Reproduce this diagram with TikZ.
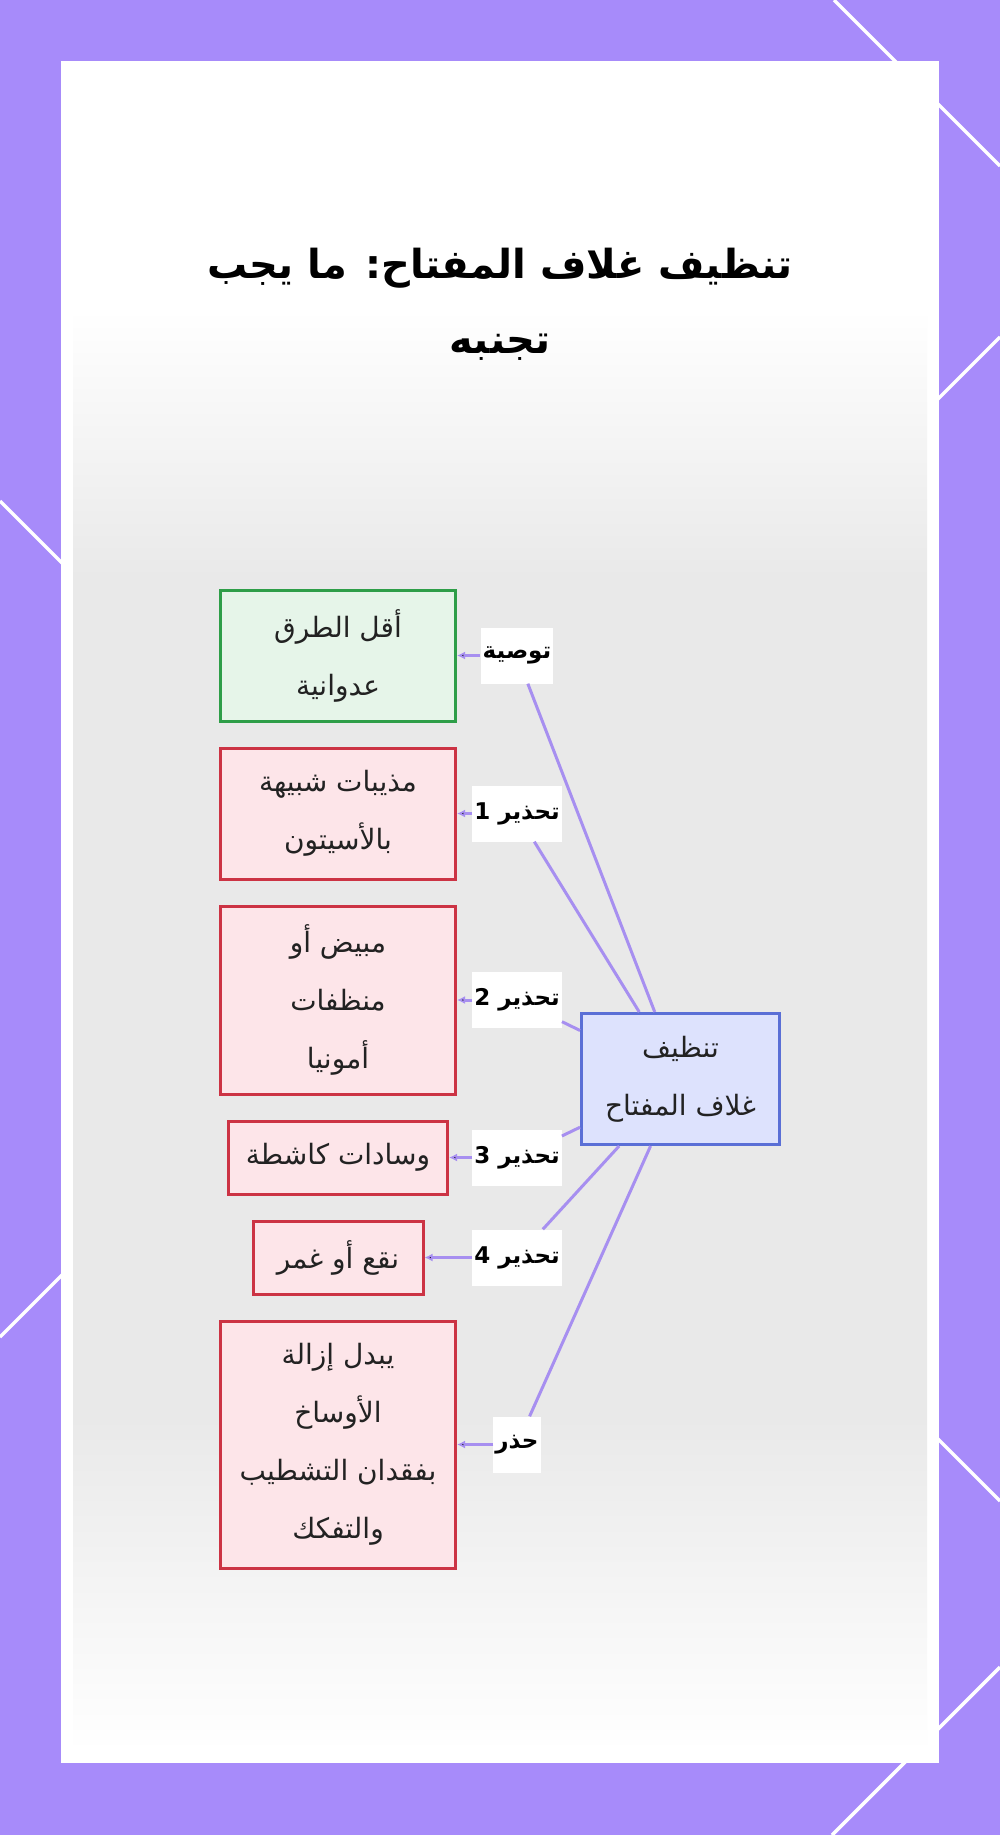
\documentclass[tikz,border=0pt]{standalone}
\usepackage{fontspec}
\usetikzlibrary{arrows.meta, shapes, positioning}
\TeXXeTstate=1
\newfontfamily\arabicfont[Script=Arabic]{DejaVu Sans}
\newcommand{\artxt}[1]{\beginR #1\endR}
\definecolor{bgpurple}{RGB}{167,139,250}
\definecolor{linkcol}{RGB}{167,143,240}
\definecolor{fadegray}{RGB}{233,233,233}
\definecolor{okfill}{RGB}{230,245,233}
\definecolor{okdraw}{RGB}{46,158,72}
\definecolor{badfill}{RGB}{253,229,233}
\definecolor{baddraw}{RGB}{204,51,68}
\definecolor{mainfill}{RGB}{221,226,253}
\definecolor{maindraw}{RGB}{90,111,214}
\definecolor{inkcol}{RGB}{34,34,34}
\pgfdeclareverticalshading{panelfade}{100bp}{color(0bp)=(white); color(25bp)=(white);
  color(35bp)=(fadegray); color(60bp)=(fadegray); color(68bp)=(white); color(100bp)=(white)}

\begin{document}
\begin{tikzpicture}[x=1pt,y=-1pt,node distance=24pt,
 box/.style={rectangle,draw,line width=3pt,align=center,inner sep=0pt,text=inkcol,
   font=\arabicfont\fontsize{28}{58}\selectfont},
 ok node/.style={box,fill=okfill,draw=okdraw},
 bad node/.style={box,fill=badfill,draw=baddraw},
 main node/.style={box,fill=mainfill,draw=maindraw},
 tag node/.style={rectangle,fill=white,inner xsep=2pt,minimum height=56pt,
   font=\arabicfont\bfseries\fontsize{23}{28}\selectfont},
 link/.style={draw=linkcol,line width=3pt},
 bgline/.style={draw=white,line width=3.5pt}]
  \useasboundingbox (0,0) rectangle (1000,1835);
  % backdrop
  \fill[bgpurple] (0,0) rectangle (1000,1835);
  \draw[bgline] (834,0) -- (1000,166);
  \draw[bgline] (1000,337) -- (800,537);
  \draw[bgline] (0,501) -- (150,651);
  \draw[bgline] (0,1337) -- (150,1187);
  \draw[bgline] (850,1351) -- (1000,1501);
  \draw[bgline] (1000,1667) -- (832,1835);
  \fill[white] (61,61) rectangle (939,1763);
  \shade[shading=panelfade] (73,75) rectangle (927,1752);

  \node[font=\arabicfont\bfseries\fontsize{40}{75}\selectfont,align=center,text=black] (title)
    at (500,304) {\artxt{تنظيف غلاف المفتاح: ما يجب}\\\artxt{تجنبه}};

  \node[ok node,minimum width=235pt,minimum height=131pt] (b0) at (338,655.5)
    {\artxt{أقل الطرق}\\\artxt{عدوانية}};
  \node[bad node,minimum width=235pt,minimum height=131pt] (b1) [below=of b0]
    {\artxt{مذيبات شبيهة}\\\artxt{بالأسيتون}};
  \node[bad node,minimum width=235pt,minimum height=188pt] (b2) [below=of b1]
    {\artxt{مبيض أو}\\\artxt{منظفات}\\\artxt{أمونيا}};
  \node[bad node,minimum width=219pt,minimum height=73pt] (b3) [below=of b2]
    {\artxt{وسادات كاشطة}};
  \node[bad node,minimum width=170pt,minimum height=73pt] (b4) [below=of b3]
    {\artxt{نقع أو غمر}};
  \node[bad node,minimum width=235pt,minimum height=247pt] (b5) [below=of b4]
    {\artxt{يبدل إزالة}\\\artxt{الأوساخ}\\\artxt{بفقدان التشطيب}\\\artxt{والتفكك}};

  \node[main node,minimum width=198pt,minimum height=131pt] (main) at (680.5,1079)
    {\artxt{تنظيف}\\\artxt{غلاف المفتاح}};

  \coordinate (tagcol) at (517,0);
  \node[tag node] (w0) at (b0 -| tagcol) {\artxt{توصية}};
  \node[tag node] (w1) at (b1 -| tagcol) {\artxt{تحذير 1}};
  \node[tag node] (w2) at (b2 -| tagcol) {\artxt{تحذير 2}};
  \node[tag node] (w3) at (b3 -| tagcol) {\artxt{تحذير 3}};
  \node[tag node] (w4) at (b4 -| tagcol) {\artxt{تحذير 4}};
  \node[tag node] (w5) at (b5 -| tagcol) {\artxt{حذر}};

  \foreach \t in {w0,w1,w2,w3,w4,w5} {
   \path[link] (main) edge (\t);}
  \foreach \s/\t in {w0/b0,w1/b1,w2/b2,w3/b3,w4/b4,w5/b5} {
   \path[link] (\s) edge[-{Latex[length=8pt,width=8pt]}] (\t);}
\end{tikzpicture}
\end{document}
